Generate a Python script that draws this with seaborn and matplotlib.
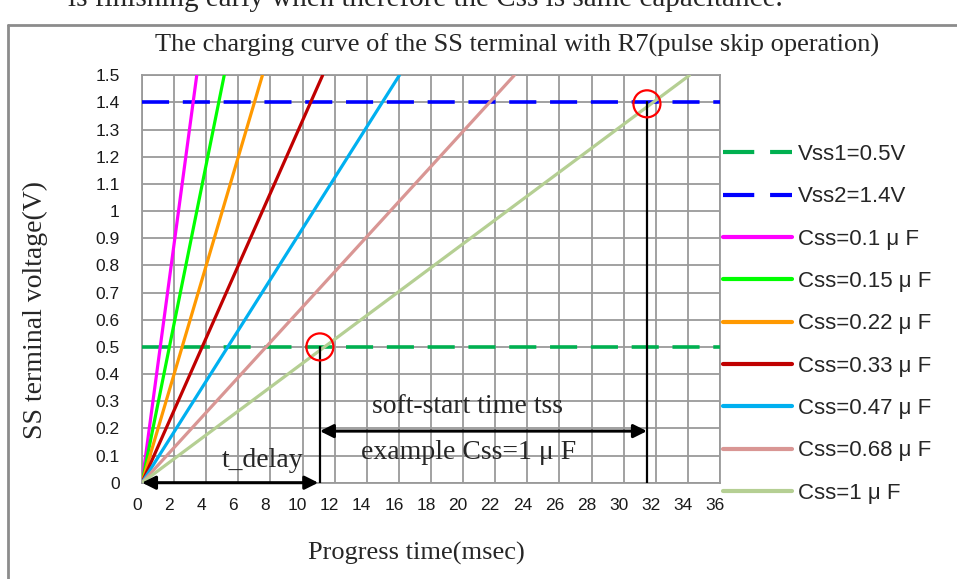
import matplotlib
matplotlib.use("Agg")
import matplotlib.pyplot as plt
from matplotlib.patches import Ellipse
from matplotlib.lines import Line2D
from matplotlib.transforms import ScaledTranslation
import numpy as np
import pandas as pd
import seaborn as sns

# ---- data -------------------------------------------------------------
cap_labels = ["Css=0.1 μ F", "Css=0.15 μ F", "Css=0.22 μ F", "Css=0.33 μ F",
              "Css=0.47 μ F", "Css=0.68 μ F", "Css=1 μ F"]
# time (msec) at which each curve reaches the top of the scale (1.5 V)
t_at_top = [3.41, 5.12, 7.50, 11.25, 16.03, 23.19, 34.1]
v_top = 1.5
cap_colors = ["#FF00FF", "#00FF00", "#FF9900", "#C00000",
              "#00B0F0", "#D99694", "#B5CF93"]

vss_labels = ["Vss1=0.5V", "Vss2=1.4V"]
vss_levels = [0.5, 1.4]
vss_colors = ["#00B050", "#0000FF"]

t_delay = 11.08       # Css=1uF reaches Vss1
t_ss_end = 31.45      # Css=1uF reaches Vss2
arrow_y = 0.19

x_ticks = np.arange(0, 37, 2)
y_ticks = np.round(np.arange(0, 1.51, 0.1), 1)

# ---- style ------------------------------------------------------------
sns.set_style("white")
plt.rcParams["font.family"] = ["Liberation Sans", "DejaVu Sans"]
serif = ["Liberation Serif", "DejaVu Serif"]
grid_c = "#9a9a9a"

fig = plt.figure(figsize=(9.57, 5.79), dpi=100)
ax = fig.add_axes([142 / 957, 1 - 482.7 / 579, (720 - 142) / 957, (482.7 - 75.3) / 579])

# threshold lines
for lab, lev, col in zip(vss_labels, vss_levels, vss_colors):
    d = pd.DataFrame({"t": [0, 36], "v": [lev, lev]})
    sns.lineplot(data=d, x="t", y="v", ax=ax, color=col, lw=2.6,
                 dashes=False, label=lab, zorder=3)
    ax.lines[-1].set_dashes((7.5, 3.8))

# charging curves
rows = []
for lab, t in zip(cap_labels, t_at_top):
    rows.append((lab, 0.0, 0.0))
    rows.append((lab, t, v_top))
curves = pd.DataFrame(rows, columns=["cap", "t", "v"])
sns.lineplot(data=curves, x="t", y="v", hue="cap", palette=cap_colors,
             hue_order=cap_labels, estimator=None, sort=False, lw=2.3,
             ax=ax, zorder=4)

ax.set_xlim(0, 36)
ax.set_ylim(0, 1.5)
ax.set_xticks(x_ticks)
ax.set_yticks(y_ticks)
ax.set_xticklabels([f"{v:g}" for v in x_ticks])
ax.set_yticklabels([f"{v:g}" for v in y_ticks])
ax.grid(True, color=grid_c, lw=1.3)
ax.set_axisbelow(True)
for s in ax.spines.values():
    s.set_color(grid_c)
    s.set_linewidth(1.3)
ax.tick_params(axis="both", which="major", direction="out", length=4,
               width=1.3, color=grid_c, labelsize=12.5, labelcolor="#1a1a1a")
ax.tick_params(axis="x", pad=7)
ax.tick_params(axis="y", pad=12)
shift = ScaledTranslation(-5 / 100, 0, fig.dpi_scale_trans)
for lbl in ax.get_xticklabels():
    lbl.set_transform(lbl.get_transform() + shift)
ax.set_xlabel("")
ax.set_ylabel("")

# annotations
ax.plot([t_delay, t_delay], [0, 0.5], color="black", lw=1.6, zorder=6)
ax.plot([t_ss_end, t_ss_end], [0, 1.4], color="black", lw=1.6, zorder=6)
arrow_kw = dict(arrowstyle="<|-|>", color="black", lw=2.2,
                mutation_scale=20, shrinkA=0, shrinkB=0)
ax.annotate("", xy=(t_delay - 0.1, 0), xytext=(0, 0),
            arrowprops=arrow_kw, annotation_clip=False, zorder=7)
ax.annotate("", xy=(t_ss_end, arrow_y), xytext=(t_delay, arrow_y),
            arrowprops=arrow_kw, zorder=7)
for cx, cy in [(t_delay, 0.5), (t_ss_end, 1.395)]:
    ax.add_patch(Ellipse((cx, cy), 27 / 16.05, 27 / 271.6, fill=False,
                         ec="#FF0000", lw=1.6, zorder=8))
ax.text(20.3, 0.28, "soft-start time tss", family=serif, fontsize=20,
        ha="center", va="center", zorder=9)
ax.text(20.35, 0.11, "example Css=1 μ F", family=serif, fontsize=20,
        ha="center", va="center", zorder=9)
ax.text(7.5, 0.08, "t_delay", family=serif, fontsize=20,
        ha="center", va="center", zorder=9)

# legend
handles, labels = ax.get_legend_handles_labels()
ax.legend(handles, labels, loc="upper left",
          bbox_to_anchor=(723 / 957, 1 - 144 / 579),
          bbox_transform=fig.transFigure, frameon=False, fontsize=16,
          handlelength=3.1, handletextpad=0.28, labelspacing=0.96,
          borderpad=0, borderaxespad=0)
for h in ax.get_legend().legend_handles:
    h.set_linewidth(3)

# titles
fig.text(517 / 957, 1 - 45 / 579,
         "The charging curve of the SS terminal with R7(pulse skip operation)",
         family=serif, fontsize=19, ha="center", va="center")
fig.text(35 / 957, 1 - 310 / 579, "SS terminal voltage(V)", family=serif,
         fontsize=20, rotation=90, ha="center", va="center")
fig.text(416 / 957, 1 - 553 / 579, "Progress time(msec)", family=serif,
         fontsize=19, ha="center", va="center")

# surrounding frame and the line of body text above it
fig.add_artist(Line2D([8 / 957, 8 / 957], [0, 1 - 25 / 579],
                      transform=fig.transFigure, color="#8c8c8c", lw=2))
fig.add_artist(Line2D([8 / 957, 1], [1 - 25 / 579, 1 - 25 / 579],
                      transform=fig.transFigure, color="#8c8c8c", lw=2))
fig.text(68 / 957, 1 - 6 / 579,
         "is finishing early when therefore the Css is same capacitance.",
         family=serif, fontsize=21, ha="left", va="baseline")

fig.savefig("out.png", dpi=100)
